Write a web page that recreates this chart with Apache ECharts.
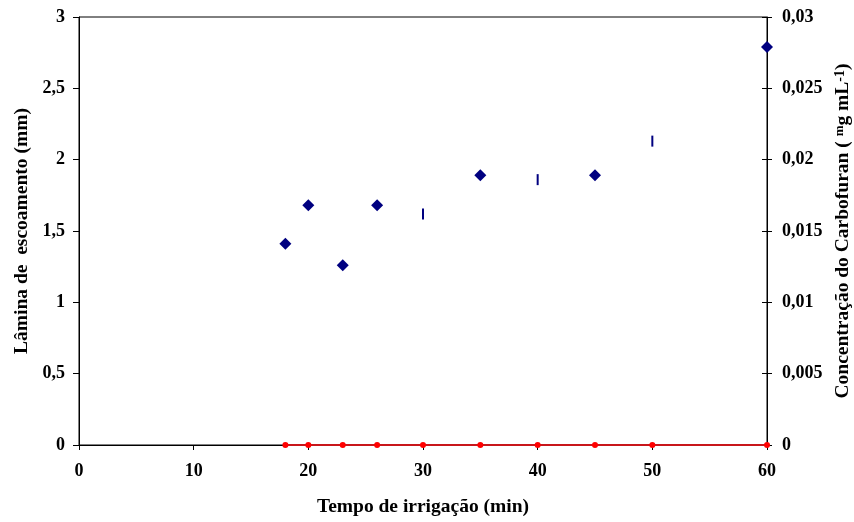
<!DOCTYPE html>
<html>
<head>
<meta charset="utf-8">
<script src="https://cdn.jsdelivr.net/npm/echarts@6/dist/echarts.min.js"></script>
<style>
  html, body { margin: 0; padding: 0; background: #fff; }
  #chart { width: 854px; height: 522px; }
</style>
</head>
<body>
<div id="chart"></div>
<script>
// Runoff depth measured at each irrigation time (diamond markers)
const tempoLamina = [18, 20, 23, 26, 35, 45, 60];
const lamina = [1.41, 1.68, 1.26, 1.68, 1.89, 1.89, 2.79];

// Runoff depth at the remaining sampling times (dash markers)
const tempoLaminaB = [30, 40, 50];
const laminaB = [1.62, 1.86, 2.13];

// Carbofuran concentration in the runoff water
const tempoConc = [18, 20, 23, 26, 30, 35, 40, 45, 50, 60];
const concentracao = [0, 0, 0, 0, 0, 0, 0, 0, 0, 0];

const FONT = '"Liberation Serif", "Times New Roman", serif';
const NAVY = '#000080';

const pairs = (xs, ys) => xs.map((x, i) => [x, ys[i]]);

const labelStyle = { fontFamily: FONT, fontWeight: 'bold', fontSize: 18, color: '#000' };
const nameStyle = { fontFamily: FONT, fontWeight: 'bold', fontSize: 19.5, color: '#000' };

const chart = echarts.init(document.getElementById('chart'), null, { renderer: 'canvas' });

chart.setOption({
  animation: false,
  backgroundColor: '#fff',
  grid: {
    left: 79, right: 87, top: 17, bottom: 77,
    containLabel: false, outerBoundsMode: 'none',
    show: true, borderColor: '#000', borderWidth: 1, backgroundColor: 'transparent'
  },
  xAxis: {
    type: 'value', min: 0, max: 60, interval: 10,
    name: 'Tempo de irrigação (min)', nameLocation: 'middle', nameGap: 52,
    nameTextStyle: nameStyle,
    axisLine: { show: true, lineStyle: { color: '#000', width: 1 } },
    axisTick: { show: true, inside: false, length: 5, lineStyle: { color: '#000' } },
    axisLabel: Object.assign({ margin: 17, formatter: v => String(v) }, labelStyle),
    splitLine: { show: false }
  },
  yAxis: [
    {
      type: 'value', min: 0, max: 3, interval: 0.5, position: 'left',
      name: 'Lâmina de  escoamento (mm)', nameLocation: 'middle', nameGap: 46, nameRotate: 90,
      nameTextStyle: nameStyle,
      axisLine: { show: true, lineStyle: { color: '#000', width: 1 } },
      axisTick: { show: true, inside: false, length: 6, lineStyle: { color: '#000' } },
      axisLabel: Object.assign({ margin: 14, formatter: v => String(v).replace('.', ',') }, labelStyle),
      splitLine: { show: false }
    },
    {
      type: 'value', min: 0, max: 0.03, interval: 0.005, position: 'right',
      name: '{a|Concentração do Carbofuran ( }{m|m}{a|g mL}{s|-1}{a|)}',
      nameLocation: 'middle', nameGap: 64, nameRotate: 90,
      nameTextStyle: Object.assign({}, nameStyle, {
        rich: {
          a: { fontFamily: FONT, fontWeight: 'bold', fontSize: 19.5, color: '#000' },
          m: { fontFamily: FONT, fontWeight: 'bold', fontSize: 13, color: '#000', verticalAlign: 'top' },
          s: { fontFamily: FONT, fontWeight: 'bold', fontSize: 14, color: '#000', verticalAlign: 'top' }
        }
      }),
      axisLine: { show: true, lineStyle: { color: '#000', width: 1 } },
      axisTick: { show: true, inside: false, length: 5, lineStyle: { color: '#000' } },
      axisLabel: Object.assign({ margin: 15, formatter: v => String(+v.toFixed(3)).replace('.', ',') }, labelStyle),
      splitLine: { show: false }
    },
    {
      // inner half of the crossing ticks on the right axis
      type: 'value', min: 0, max: 0.03, interval: 0.005, position: 'right',
      axisLine: { show: false },
      axisTick: { show: true, inside: true, length: 5, lineStyle: { color: '#000' } },
      axisLabel: { show: false },
      splitLine: { show: false }
    }
  ],
  series: [
    {
      name: 'Concentração', type: 'line', yAxisIndex: 1,
      data: pairs(tempoConc, concentracao),
      lineStyle: { color: '#c8161b', width: 2 },
      symbol: 'circle', symbolSize: 6,
      itemStyle: { color: '#ff0000', borderWidth: 0, opacity: 1 },
      z: 5
    },
    {
      name: 'Lâmina', type: 'scatter', yAxisIndex: 0,
      data: pairs(tempoLamina, lamina),
      symbol: 'diamond', symbolSize: [12, 12],
      itemStyle: { color: NAVY, opacity: 1 },
      z: 6
    },
    {
      name: 'Lâmina B', type: 'scatter', yAxisIndex: 0,
      data: pairs(tempoLaminaB, laminaB),
      symbol: 'rect', symbolSize: [2, 11],
      itemStyle: { color: NAVY, opacity: 1 },
      z: 6
    }
  ]
});
</script>
</body>
</html>
